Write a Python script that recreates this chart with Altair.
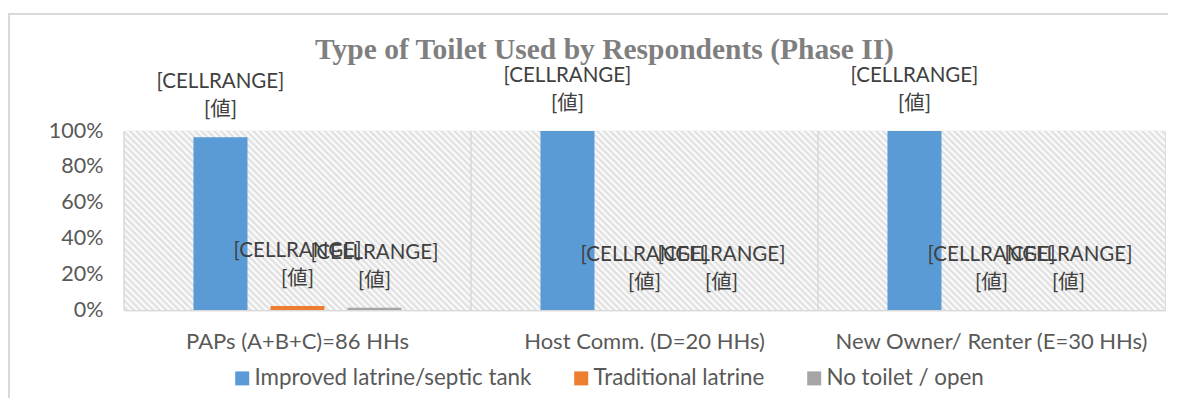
import altair as alt
import pandas as pd

categories = ["PAPs (A+B+C)=86 HHs", "Host Comm. (D=20 HHs)", "New Owner/ Renter (E=30 HHs)"]
series = ["Improved latrine/septic tank", "Traditional latrine", "No toilet / open"]
improved = [0.965, 1.0, 1.0]
traditional = [0.023, 0.0, 0.0]
no_toilet = [0.012, 0.0, 0.0]
colors = ["#5b9bd5", "#ed7d31", "#a5a5a5"]
label_top = "[CELLRANGE]"
label_bottom = "[値]"
title_text = "Type of Toilet Used by Respondents (Phase II)"

rows = []
for i, c in enumerate(categories):
    for s, vals in zip(series, [improved, traditional, no_toilet]):
        rows.append({"cat": c, "series": s, "value": vals[i]})
df = pd.DataFrame(rows)

W, H = 1041, 179
FONT = "Lato, Noto Sans CJK JP, sans-serif"

# diagonal hatch made with a striped linear gradient (bbox units)
t = (W + H) / (W * W + H * H)
N = 188
stops = []
for k in range(N):
    stops.append({"offset": k / N, "color": "#ffffff"})
    stops.append({"offset": (k + 0.5) / N, "color": "#dcdcdc"})
stops.append({"offset": 1, "color": "#ffffff"})
hatch = {"gradient": "linear", "x1": 0, "y1": 1, "x2": t * W, "y2": 1 - t * H, "stops": stops}

blank = alt.Data(values=[{}])

frame = alt.Chart(blank).mark_rect(fill=None, stroke="#d9d9d9", strokeWidth=2).encode(
    x=alt.value(-115), x2=alt.value(W + 200), y=alt.value(-117), y2=alt.value(H + 300)
)

bg = alt.Chart(blank).mark_rect(fill=hatch).encode(
    x=alt.value(0), x2=alt.value(W), y=alt.value(0), y2=alt.value(H)
)

xscale = alt.Scale(paddingInner=0, paddingOuter=0)
xaxis = alt.Axis(labelFont=FONT, labelFontSize=22, labelColor="#595959",
                 labelPadding=21, ticks=False, domain=True, domainColor="#d9d9d9",
                 domainWidth=1.5, grid=False, labelAngle=0, labelLimit=500,
                 bandPosition=0.5, labelAlign="center")
xenc = alt.X("cat:N", sort=categories, title=None, scale=xscale, axis=xaxis)
xoff = alt.XOffset("series:N", sort=series,
                   scale=alt.Scale(paddingInner=0.2987, paddingOuter=0.902))
yenc = alt.Y("value:Q", title=None, scale=alt.Scale(domain=[0, 1]),
             axis=alt.Axis(format="%", values=[0, 0.2, 0.4, 0.6, 0.8, 1.0],
                           labelFont=FONT, labelFontSize=21.5, labelColor="#595959",
                           labelPadding=21, ticks=False, domain=False, labelOverlap=False,
                           labelFlush=False, labelBound=False,
                           grid=True, gridColor="#d9d9d9", gridWidth=1.5))

sep = alt.Chart(pd.DataFrame({"cat": categories})).mark_rule(
    color="#d9d9d9", strokeWidth=1.5
).encode(x=alt.X("cat:N", sort=categories, bandPosition=0, title=None,
                 scale=xscale, axis=xaxis))

bars = alt.Chart(df).mark_bar().encode(
    x=xenc, xOffset=xoff, y=yenc,
    color=alt.Color("series:N", sort=series,
                    scale=alt.Scale(domain=series, range=colors),
                    legend=alt.Legend(title=None, orient="none", direction="horizontal",
                                      legendX=107, legendY=236, symbolType="square",
                                      symbolSize=196, symbolStrokeWidth=0,
                                      labelFont=FONT, labelFontSize=22.4, labelColor="#595959",
                                      labelOffset=1, columnPadding=38, padding=0,
                                      labelLimit=500))
)

txt_top = alt.Chart(df).mark_text(dy=-55, font=FONT, fontSize=20.5, color="#404040",
                                  baseline="middle").encode(
    x=xenc, xOffset=xoff, y=yenc, text=alt.value(label_top))
txt_bot = alt.Chart(df).mark_text(dy=-27, font=FONT, fontSize=20.5, color="#404040",
                                  baseline="middle").encode(
    x=xenc, xOffset=xoff, y=yenc, text=alt.value(label_bottom))

chart = alt.layer(frame, bg, bars, sep, txt_top, txt_bot).properties(
    width=W, height=H,
    title=alt.Title(title_text, font="Liberation Serif", fontSize=29.5, fontWeight="bold",
                    color="#7f7f7f", offset=-52, dx=-40, anchor="middle"),
    autosize=alt.AutoSizeParams(type="none"),
    padding={"left": 116, "top": 123, "right": 3, "bottom": 88},
).configure_view(stroke="#d9d9d9", strokeWidth=1.5).configure(background="white")

chart.save("out.html", embed_options={"renderer": "svg", "actions": False})
